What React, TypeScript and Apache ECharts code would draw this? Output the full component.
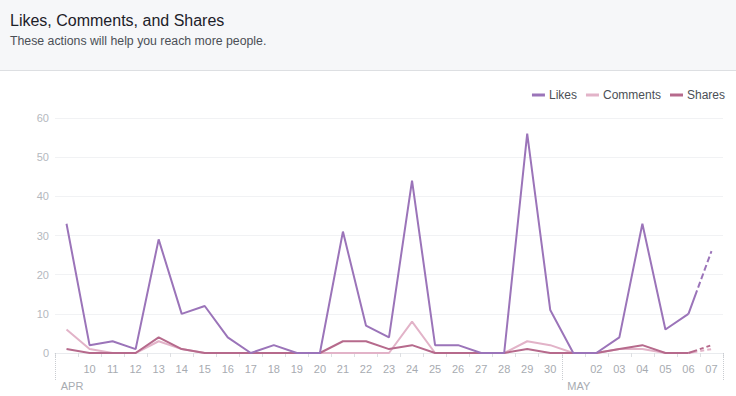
import React, { useEffect, useRef } from "react";
import * as echarts from "echarts";

const days = ["09","10","11","12","13","14","15","16","17","18","19","20","21","22","23","24","25","26","27","28","29","30","01","02","03","04","05","06","07"];
const monthStarts: Record<number, string> = { 0: "APR", 22: "MAY" };
const likes = [33,2,3,1,29,10,12,4,0,2,0,0,31,7,4,44,2,2,0,0,56,11,0,0,4,33,6,10,26];
const comments = [6,1,0,0,3,1,0,0,0,0,0,0,0,0,0,8,0,0,0,0,3,2,0,0,1,1,0,0,1];
const shares = [1,0,0,0,4,1,0,0,0,0,0,0,3,3,1,2,0,0,0,0,1,0,0,0,1,2,0,0,2];
const yTicks = { min: 0, max: 60, interval: 10 };

const FONT = "'Liberation Sans', Arial, Helvetica, sans-serif";
const colors = { Likes: "#9b74b9", Comments: "#e2b3c8", Shares: "#b66a8c" };

function splitSeries(name: string, values: number[], color: string, dash: number[]) {
  const last = values.length - 1;
  const solid = values.map((v, i) => (i < last ? v : null));
  const dashed = values.map((v, i) => (i >= last - 1 ? v : null));
  const z = name === "Likes" ? 3 : name === "Shares" ? 2 : 1;
  return [
    {
      name, type: "line", data: solid, showSymbol: false, symbol: "none",
      lineStyle: { color, width: 2 }, itemStyle: { color }, z,
    },
    {
      name, type: "line", data: dashed, showSymbol: false, symbol: "none",
      lineStyle: { color, width: 2, type: dash }, itemStyle: { color }, z,
    },
  ];
}

export default function App() {
  const ref = useRef<HTMLDivElement>(null);
  useEffect(() => {
    document.body.style.margin = "0";
    const chart = echarts.init(ref.current!, null, { renderer: "svg" });
    chart.setOption({
      animation: false,
      backgroundColor: "#ffffff",
      textStyle: { fontFamily: FONT },
      graphic: [
        { type: "rect", z: -10, shape: { x: 0, y: 0, width: 736, height: 70 }, style: { fill: "#f6f7f9" } },
        { type: "line", z: -10, shape: { x1: 0, y1: 70.5, x2: 736, y2: 70.5 }, style: { stroke: "#dddfe2", lineWidth: 1 } },
      ],
      title: {
        text: "Likes, Comments, and Shares",
        subtext: "These actions will help you reach more people.",
        left: 10, top: 12, padding: 0, itemGap: 7,
        textStyle: { fontSize: 16, fontWeight: "normal", color: "#1d2129", fontFamily: FONT },
        subtextStyle: { fontSize: 12.3, color: "#4b4f56", fontFamily: FONT },
      },
      legend: {
        data: ["Likes", "Comments", "Shares"],
        right: 11, top: 89, padding: 0,
        icon: "rect", itemWidth: 13, itemHeight: 3, itemGap: 9,
        textStyle: { fontSize: 12, color: "#4b4f56", fontFamily: FONT, padding: [0, 0, 0, -1] },
      },
      grid: { left: 55, right: 13, top: 118, bottom: 43, containLabel: false },
      xAxis: [
        {
          type: "category", data: days, boundaryGap: true,
          axisLine: { show: true, lineStyle: { color: "#e9ebee" } },
          axisTick: { show: true, length: 4, interval: 0, lineStyle: { color: "#dddfe2" } },
          axisLabel: {
            interval: 0, margin: 10, fontSize: 11, color: "#a7abb1", fontFamily: FONT,
            formatter: (v: string, i: number) => (monthStarts[i] ? "" : v),
          },
        },
        {
          type: "category", data: days, boundaryGap: true, position: "bottom",
          axisLine: { show: false },
          axisTick: {
            show: true, length: 27, interval: (i: number) => !!monthStarts[i],
            lineStyle: { color: "#c9ccd1", type: "dotted" },
          },
          axisLabel: {
            interval: (i: number) => !!monthStarts[i], margin: 27, fontSize: 11, color: "#a7abb1", fontFamily: FONT,
            formatter: (_v: string, i: number) => (monthStarts[i] ? "{m|" + monthStarts[i] + "}" : ""),
            rich: { m: { fontSize: 11, color: "#a7abb1", fontFamily: FONT, padding: [0, 0, 0, 11] } },
          },
        },
      ],
      yAxis: {
        type: "value", ...yTicks,
        axisLine: { show: false }, axisTick: { show: false },
        axisLabel: { fontSize: 11, color: "#b4b8be", margin: 6, fontFamily: FONT },
        splitLine: { lineStyle: { color: "#f1f2f4" } },
      },
      series: [
        ...splitSeries("Comments", comments, colors.Comments, [9, 3, 4, 3, 4, 3]),
        ...splitSeries("Shares", shares, colors.Shares, [9, 3, 4, 3, 4, 3]),
        ...splitSeries("Likes", likes, colors.Likes, [25, 3, 6, 3, 6, 3, 6, 3, 6, 3, 6, 3]),
      ],
    });
    return () => chart.dispose();
  }, []);
  return <div ref={ref} style={{ width: 736, height: 396 }} />;
}
